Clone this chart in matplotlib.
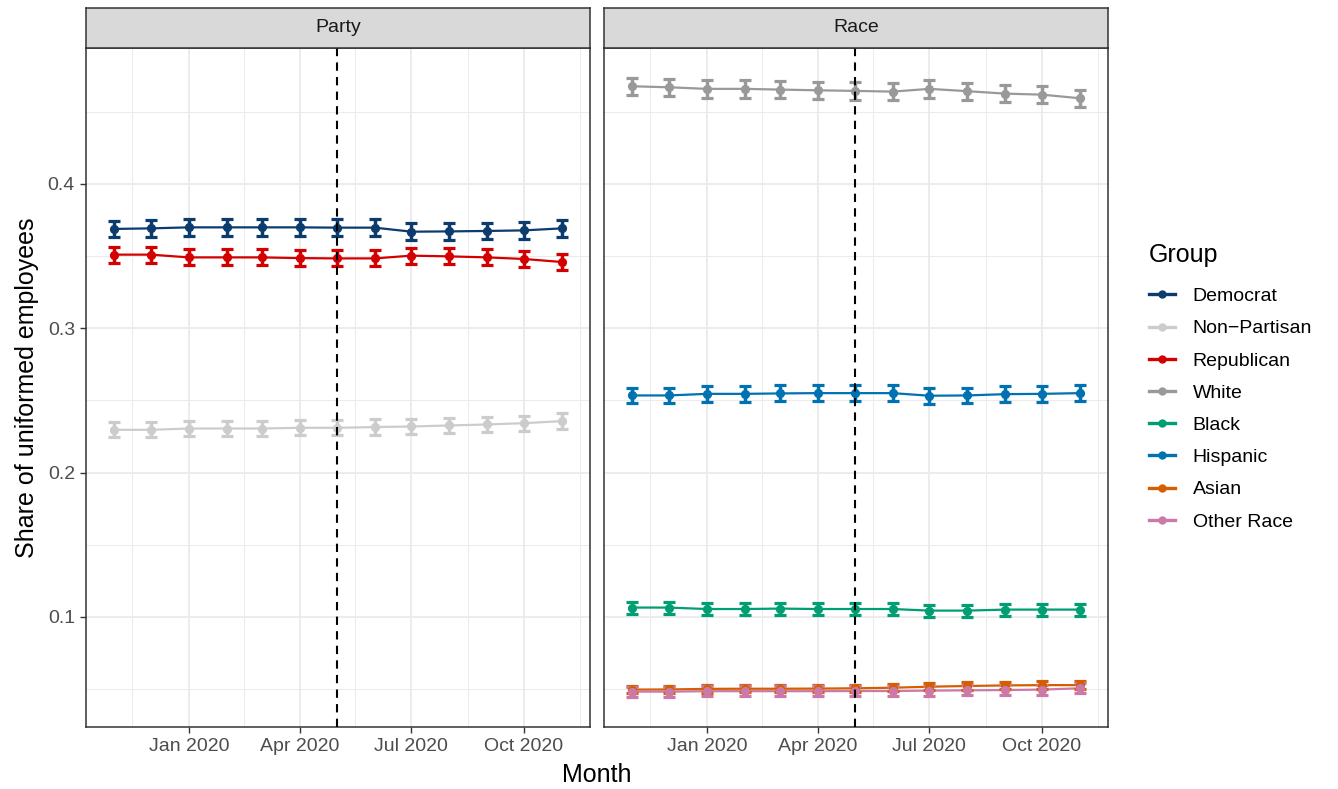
import numpy as np
import matplotlib
matplotlib.use("Agg")
import matplotlib.pyplot as plt
import matplotlib.dates as mdates
from matplotlib.lines import Line2D

plt.rcParams['font.family'] = ['Liberation Sans', 'DejaVu Sans']

# data
months = ["2019-11-01", "2019-12-01", "2020-01-01", "2020-02-01", "2020-03-01",
          "2020-04-01", "2020-05-01", "2020-06-01", "2020-07-01", "2020-08-01",
          "2020-09-01", "2020-10-01", "2020-11-01"]
event_date = "2020-05-01"

democrat = [0.3687, 0.3691, 0.3698, 0.3698, 0.3698, 0.3698, 0.3696, 0.3696,
            0.3668, 0.3670, 0.3673, 0.3677, 0.3691]
non_partisan = [0.2296, 0.2296, 0.2305, 0.2305, 0.2305, 0.2310, 0.2310, 0.2315,
                0.2319, 0.2326, 0.2333, 0.2342, 0.2356]
republican = [0.3509, 0.3509, 0.3490, 0.3490, 0.3490, 0.3485, 0.3483, 0.3483,
              0.3502, 0.3497, 0.3490, 0.3479, 0.3458]

white = [0.4675, 0.4668, 0.4657, 0.4657, 0.4652, 0.4647, 0.4643, 0.4638,
         0.4657, 0.4641, 0.4624, 0.4617, 0.4592]
black = [0.1065, 0.1065, 0.1055, 0.1055, 0.1058, 0.1055, 0.1055, 0.1055,
         0.1044, 0.1044, 0.1051, 0.1051, 0.1051]
hispanic = [0.2534, 0.2534, 0.2545, 0.2545, 0.2548, 0.2550, 0.2550, 0.2550,
            0.2532, 0.2534, 0.2543, 0.2545, 0.2550]
asian = [0.0497, 0.0498, 0.0502, 0.0503, 0.0503, 0.0504, 0.0506, 0.0510,
         0.0517, 0.0522, 0.0526, 0.0528, 0.0528]
other_race = [0.0483, 0.0483, 0.0486, 0.0486, 0.0486, 0.0486, 0.0487, 0.0487,
              0.0490, 0.0492, 0.0494, 0.0497, 0.0506]

# half width of the confidence interval, per group
ci_half = {"Democrat": 0.0058, "Non\u2212Partisan": 0.0053, "Republican": 0.0055,
           "White": 0.0060, "Black": 0.0042, "Hispanic": 0.0055,
           "Asian": 0.0026, "Other Race": 0.0034}

colors = {"Democrat": "#0B3C6D", "Non\u2212Partisan": "#CCCCCC", "Republican": "#D40000",
          "White": "#999999", "Black": "#009E73", "Hispanic": "#0072B2",
          "Asian": "#D55E00", "Other Race": "#CC79A7"}

panels = [
    ("Party", [("Democrat", democrat), ("Non\u2212Partisan", non_partisan),
               ("Republican", republican)]),
    ("Race", [("White", white), ("Black", black), ("Hispanic", hispanic),
              ("Asian", asian), ("Other Race", other_race)]),
]

W, H = 1338, 789
x = np.array(months, dtype="datetime64[D]")
major_ticks = np.array(["2020-01-01", "2020-04-01", "2020-07-01", "2020-10-01"], dtype="datetime64[D]")
minor_ticks = np.array(["2019-11-16", "2020-02-15", "2020-05-16", "2020-08-16", "2020-11-16"], dtype="datetime64[D]")
xlim = np.array(["2019-10-09", "2020-11-24"], dtype="datetime64[D]")

fig = plt.figure(figsize=(W / 100, H / 100), dpi=100)

for i, (title, series) in enumerate(panels):
    left = (86 if i == 0 else 604) / W
    ax = fig.add_axes([left, 1 - 727 / H, 504 / W, 679 / H])

    for name, vals in series:
        c = colors[name]
        v = np.array(vals)
        ax.plot(x, v, color=c, lw=1.6, zorder=3)
        ax.errorbar(x, v, yerr=ci_half[name], fmt='o', color=c, ms=5.6,
                    elinewidth=2.5, capsize=4.6, capthick=2.3, zorder=4)

    ax.axvline(np.datetime64(event_date), color="black", ls=(0, (4, 3)), lw=1.5, zorder=6)

    ax.set_xlim(xlim)
    ax.set_ylim(0.0238, 0.494)
    ax.set_xticks(major_ticks)
    ax.set_xticks(minor_ticks, minor=True)
    ax.xaxis.set_major_formatter(mdates.DateFormatter("%b %Y"))
    ax.set_yticks([0.1, 0.2, 0.3, 0.4])
    ax.set_yticks([0.05, 0.15, 0.25, 0.35, 0.45], minor=True)
    ax.grid(True, which="major", color="#EBEBEB", lw=1.3, zorder=0)
    ax.grid(True, which="minor", color="#EBEBEB", lw=0.7, zorder=0)
    ax.set_axisbelow(True)
    ax.tick_params(which="major", length=4.5, width=1.0, color="#333333",
                   labelsize=14, labelcolor="#4D4D4D")
    ax.tick_params(which="minor", length=0)
    for s in ax.spines.values():
        s.set_color("#333333")
        s.set_linewidth(1.1)
    if i == 0:
        ax.set_yticklabels(["0.1", "0.2", "0.3", "0.4"])
    else:
        ax.tick_params(axis="y", which="both", left=False, labelleft=False)

    # facet strip
    sx = fig.add_axes([left, 1 - 48 / H, 504 / W, 40 / H])
    sx.set_facecolor("#D9D9D9")
    sx.set_xticks([])
    sx.set_yticks([])
    for s in sx.spines.values():
        s.set_color("#333333")
        s.set_linewidth(1.1)
    sx.text(0.5, 0.5, title, ha="center", va="center", fontsize=14, color="#1A1A1A",
            transform=sx.transAxes)

fig.text(27 / W, 1 - 388 / H, "Share of uniformed employees", rotation=90,
         ha="center", va="center", fontsize=18)
fig.text(597 / W, 1 - 775 / H, "Month", ha="center", va="center", fontsize=18)

handles = []
labels = []
for title, series in panels:
    for name, _ in series:
        handles.append(Line2D([], [], color=colors[name], lw=2.4, marker='o', ms=5))
        labels.append(name)

leg = fig.legend(handles, labels, title="Group", loc="center left",
                 bbox_to_anchor=(1149 / W, 1 - 387 / H), frameon=False,
                 fontsize=14, title_fontsize=18, handlelength=1.35,
                 labelspacing=0.75, handletextpad=0.9, borderaxespad=0,
                 borderpad=0)
leg._legend_box.align = "left"
# a bit more room between the legend title and the keys
leg._legend_box.sep += 4

fig.savefig("out.png", dpi=100)
